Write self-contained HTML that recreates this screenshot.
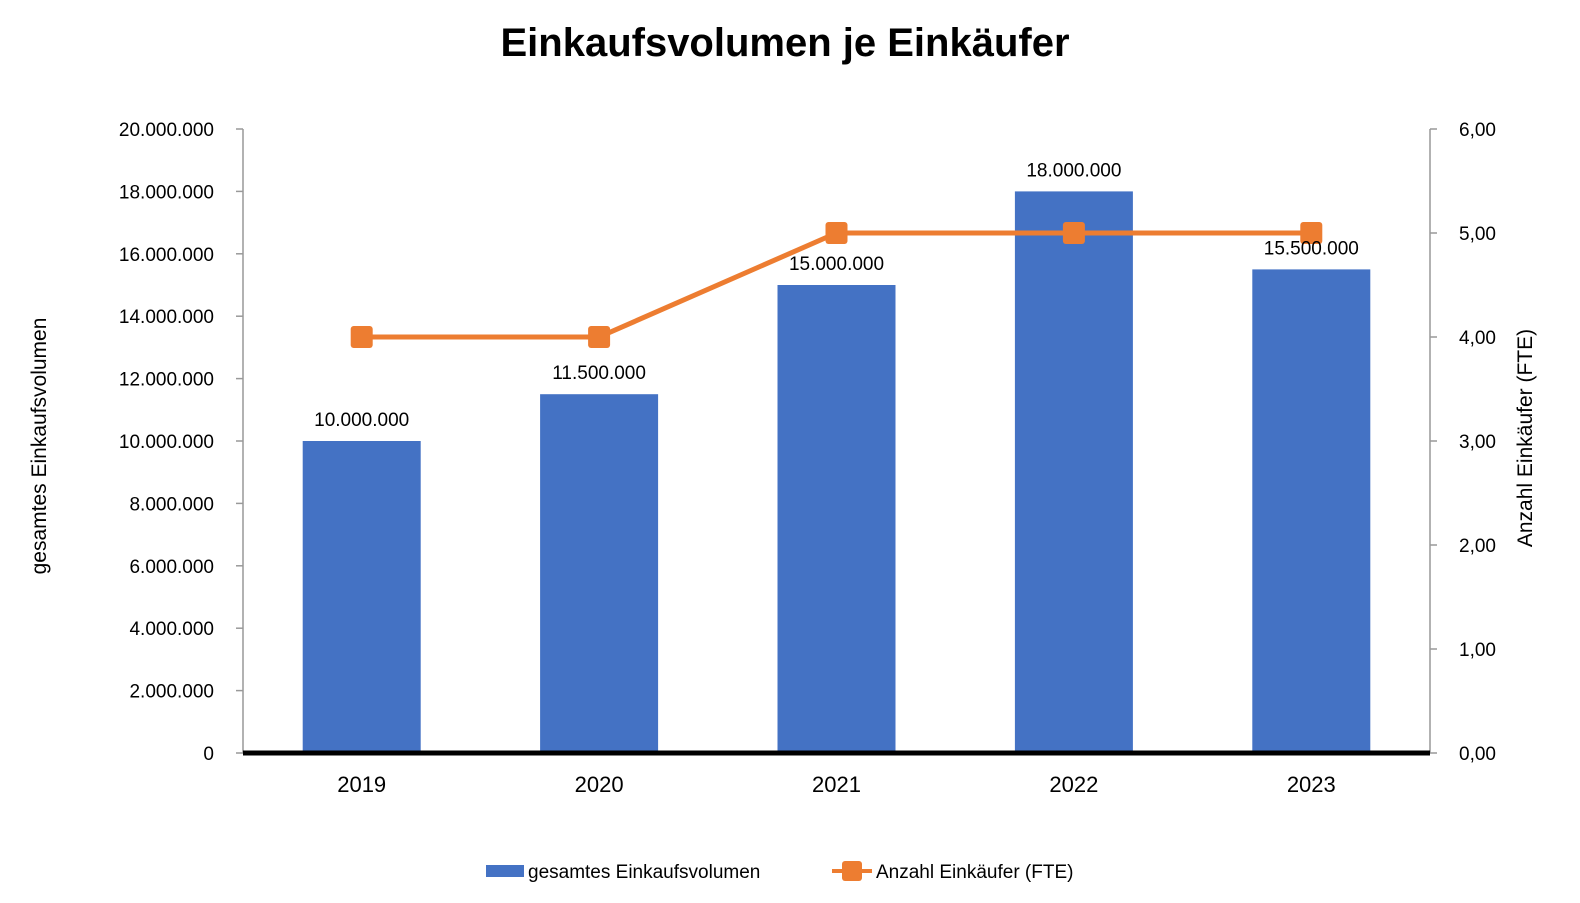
<!DOCTYPE html>
<html><head><meta charset="utf-8"><style>
body{margin:0;background:#fff;}
svg{display:block;font-family:"Liberation Sans",sans-serif;}
</style></head><body>
<svg id="c" width="1580" height="903">
<text x="785" y="56" text-anchor="middle" font-size="40" font-weight="bold">Einkaufsvolumen je Einkäufer</text>
<text transform="translate(46,446) rotate(-90)" text-anchor="middle" font-size="21">gesamtes Einkaufsvolumen</text>
<text transform="translate(1532,438) rotate(-90)" text-anchor="middle" font-size="21">Anzahl Einkäufer (FTE)</text>
<g id="g"></g>
<g>
<rect x="486" y="865" width="38" height="12" fill="#4472C4"/>
<text x="528" y="878" font-size="19">gesamtes Einkaufsvolumen</text>
<line x1="832" y1="871" x2="872" y2="871" stroke="#ED7D31" stroke-width="4"/>
<rect x="842" y="861" width="20" height="20" rx="3" fill="#ED7D31"/>
<text x="876" y="878" font-size="19">Anzahl Einkäufer (FTE)</text>
</g>
</svg>
<script>
const categories=["2019","2020","2021","2022","2023"];
const volume=[10000000,11500000,15000000,18000000,15500000];
const fte=[4,4,5,5,5];
const leftTicks=[0,2000000,4000000,6000000,8000000,10000000,12000000,14000000,16000000,18000000,20000000];
const rightTicks=[0,1,2,3,4,5,6];
const NS="http://www.w3.org/2000/svg";
const g=document.getElementById('g');
const L=243,R=1430,T=129,B=753;
const yL=v=>B-(v/20000000)*(B-T);
const yR=v=>B-(v/6)*(B-T);
const bw=(R-L)/categories.length;
const xC=i=>L+bw*(i+0.5);
const de=n=>n.toString().replace(/\B(?=(\d{3})+(?!\d))/g,".");
function mk(t,a,txt){const e=document.createElementNS(NS,t);for(const k in a)e.setAttribute(k,a[k]);if(txt!==undefined)e.textContent=txt;g.appendChild(e);return e;}
let e;
e=mk('line',{x1:L,y1:T,x2:L,y2:B,stroke:'#999','stroke-width':1.5});


e=mk('line',{x1:R,y1:T,x2:R,y2:B,stroke:'#999','stroke-width':1.5});


leftTicks.forEach(v=>{
 mk('line',{x1:L-7,y1:yL(v),x2:L,y2:yL(v),stroke:'#999','stroke-width':1.5});
 e=mk('text',{x:214,y:yL(v)+7,'text-anchor':'end','font-size':19},de(v));
 
 
});
rightTicks.forEach(v=>{
 mk('line',{x1:R,y1:yR(v),x2:R+7,y2:yR(v),stroke:'#999','stroke-width':1.5});
 e=mk('text',{x:1496,y:yR(v)+7,'text-anchor':'end','font-size':19},v.toFixed(2).replace('.',','));
 
 
});
volume.forEach((v,i)=>{
 e=mk('rect',{x:xC(i)-59,y:yL(v),width:118,height:B-yL(v),fill:'#4472C4'});
 
 
});
e=mk('line',{x1:L,y1:B,x2:R,y2:B,stroke:'#000','stroke-width':5});


categories.forEach((c,i)=>{
 e=mk('text',{x:xC(i),y:792,'text-anchor':'middle','font-size':22},c);
 
 
});
e=mk('polyline',{points:fte.map((v,i)=>xC(i)+','+yR(v)).join(' '),fill:'none',stroke:'#ED7D31','stroke-width':5,'stroke-linejoin':'round'});


fte.forEach((v,i)=>{
 e=mk('rect',{x:xC(i)-11,y:yR(v)-11,width:22,height:22,rx:3,fill:'#ED7D31'});
 
 
});
volume.forEach((v,i)=>{
 e=mk('text',{x:xC(i),y:yL(v)-15,'text-anchor':'middle','font-size':19},de(v));
 
 
});
</script>
</body></html>
